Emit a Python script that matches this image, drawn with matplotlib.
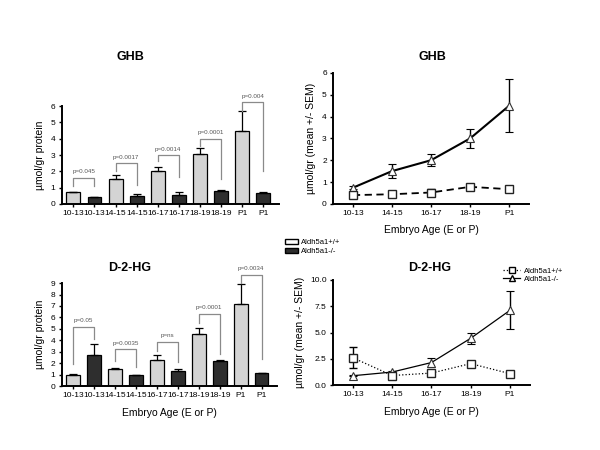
import matplotlib
matplotlib.use("Agg")
import matplotlib.pyplot as plt
from matplotlib.patches import Patch
from matplotlib.lines import Line2D
import numpy as np

plt.rcParams['font.family'] = ['Liberation Sans', 'DejaVu Sans']

ages = ["10-13", "14-15", "16-17", "18-19", "P1"]

# GHB bar data
ghb_wt = [0.70, 1.55, 2.00, 3.05, 4.50]
ghb_wt_err = [0.02, 0.23, 0.28, 0.40, 1.20]
ghb_ko = [0.40, 0.48, 0.55, 0.82, 0.68]
ghb_ko_err = [0.04, 0.12, 0.15, 0.06, 0.02]
ghb_p = ["p=0.045", "p=0.0017", "p=0.0014", "p=0.0001", "p=0.004"]
# bracket: left bottom, top, right bottom
ghb_br_left = [1.10, 2.04, 2.65, 3.55, 5.70]
ghb_br_top = [1.60, 2.50, 3.00, 4.00, 6.24]
ghb_br_right = [1.10, 1.16, 1.67, 1.50, 2.00]

# D-2-HG bar data
hg_wt = [1.00, 1.47, 2.26, 4.55, 7.20]
hg_wt_err = [0.08, 0.13, 0.47, 0.49, 1.72]
hg_ko = [2.70, 1.00, 1.29, 2.23, 1.17]
hg_ko_err = [1.02, 0.01, 0.18, 0.01, 0.01]
hg_p = ["p=0.05", "p=0.0035", "p=ns", "p=0.0001", "p=0.0034"]
hg_br_left = [1.90, 2.17, 3.05, 5.48, 9.00]
hg_br_top = [5.19, 3.23, 3.87, 6.30, 9.74]
hg_br_right = [4.08, 1.67, 2.11, 2.84, 2.40]

# GHB line data
ghb_tri = [0.74, 1.50, 2.00, 3.00, 4.50]
ghb_tri_err = [0.08, 0.33, 0.28, 0.42, 1.20]
ghb_sq = [0.40, 0.44, 0.52, 0.78, 0.67]
ghb_sq_err = [0.05, 0.05, 0.17, 0.05, 0.05]

# D-2-HG line data
hg_tri = [0.90, 1.25, 2.15, 4.45, 7.10]
hg_tri_err = [0.05, 0.10, 0.45, 0.52, 1.80]
hg_sq = [2.60, 0.92, 1.15, 2.05, 1.10]
hg_sq_err = [1.00, 0.05, 0.05, 0.05, 0.05]

LIGHT = '#d4d4d4'
DARK = '#2e2e2e'
BRC = '#8a8a8a'

fig = plt.figure(figsize=(6, 4.5), dpi=100)


def style_axes(ax):
    for s in ['top', 'right']:
        ax.spines[s].set_visible(False)
    for s in ['left', 'bottom']:
        ax.spines[s].set_linewidth(1.4)
    ax.tick_params(axis='both', labelsize=6, length=2.5, width=1, direction='out', pad=2)


def bar_panel(rect, wt, wt_err, ko, ko_err, pl, bl, bt, brr, ymax, xlabel):
    ax = fig.add_axes(rect)
    n = len(ages)
    xw = np.arange(n) * 2
    xk = xw + 1
    ax.bar(xw, wt, width=0.66, color=LIGHT, edgecolor='black', linewidth=0.9,
           yerr=[np.zeros(n), wt_err], error_kw=dict(ecolor='black', elinewidth=0.9, capsize=3, capthick=0.9))
    ax.bar(xk, ko, width=0.66, color=DARK, edgecolor='black', linewidth=0.9,
           yerr=[np.zeros(n), ko_err], error_kw=dict(ecolor='black', elinewidth=0.9, capsize=3, capthick=0.9))
    for i in range(n):
        ax.plot([xw[i], xw[i], xk[i], xk[i]], [bl[i], bt[i], bt[i], brr[i]],
                color=BRC, lw=0.9, clip_on=False)
        ax.text((xw[i] + xk[i]) / 2, bt[i] + ymax * 0.035, pl[i], ha='center', va='bottom',
                fontsize=4.5, color='#555555', clip_on=False)
    ax.set_xlim(-0.55, 9.75)
    ax.set_ylim(0, ymax)
    ax.set_yticks(range(0, ymax + 1))
    ticks = np.empty(2 * n)
    ticks[0::2] = xw
    ticks[1::2] = xk
    ax.set_xticks(ticks)
    labs = []
    for a in ages:
        labs += [a, a]
    ax.set_xticklabels(labs)
    style_axes(ax)
    ax.set_ylabel("µmol/gr protein", fontsize=7.5, labelpad=4)
    if xlabel:
        ax.set_xlabel("Embryo Age (E or P)", fontsize=7.5, labelpad=6)
    return ax


def line_panel(rect, tri, tri_err, sq, sq_err, ymax, yticks, fmt, sq_ls, lw_tri, lw_sq, msq, mtri):
    ax = fig.add_axes(rect)
    x = np.arange(len(ages))
    ax.errorbar(x, tri, yerr=tri_err, color='black', lw=lw_tri, marker='^', ms=mtri,
                mfc='white', mec='#333333', mew=0.8, capsize=3, elinewidth=1.0, capthick=1.0)
    ax.errorbar(x, sq, yerr=sq_err, color='black', lw=lw_sq, ls=sq_ls, marker='s', ms=msq,
                mfc='white', mec='#222222', mew=1.0, capsize=3, elinewidth=1.0, capthick=1.0)
    ax.set_xlim(-0.51, 4.51)
    ax.set_ylim(0, ymax)
    ax.set_yticks(yticks)
    ax.set_yticklabels([fmt.format(v) for v in yticks])
    ax.set_xticks(x)
    ax.set_xticklabels(ages)
    style_axes(ax)
    ax.set_ylabel("µmol/gr (mean +/- SEM)", fontsize=7.5, labelpad=4)
    ax.set_xlabel("Embryo Age (E or P)", fontsize=7.5, labelpad=6)
    return ax


bar_panel([0.103, 0.547, 0.362, 0.217], ghb_wt, ghb_wt_err, ghb_ko, ghb_ko_err,
          ghb_p, ghb_br_left, ghb_br_top, ghb_br_right, 6, False)
bar_panel([0.103, 0.142, 0.359, 0.229], hg_wt, hg_wt_err, hg_ko, hg_ko_err,
          hg_p, hg_br_left, hg_br_top, hg_br_right, 9, True)
line_panel([0.555, 0.547, 0.327, 0.291], ghb_tri, ghb_tri_err, ghb_sq, ghb_sq_err,
           6, list(range(0, 7)), "{:.0f}", (0, (4, 2.5)), 1.5, 1.3, 6, 6)
line_panel([0.555, 0.144, 0.328, 0.234], hg_tri, hg_tri_err, hg_sq, hg_sq_err,
           10, [0, 2.5, 5.0, 7.5, 10.0], "{:.1f}", ':', 0.9, 0.9, 6, 6)

# Titles
fig.text(130 / 600, 1 - 57 / 450, "GHB", ha='center', va='center', fontsize=9, fontweight='bold')
fig.text(432 / 600, 1 - 57 / 450, "GHB", ha='center', va='center', fontsize=9, fontweight='bold')
fig.text(130 / 600, 1 - 268 / 450, "D-2-HG", ha='center', va='center', fontsize=9, fontweight='bold')
fig.text(430 / 600, 1 - 268 / 450, "D-2-HG", ha='center', va='center', fontsize=9, fontweight='bold')

# Bar legend
fig.legend(handles=[Patch(facecolor='white', edgecolor='black', lw=1.0, label='Aldh5a1+/+'),
                    Patch(facecolor=DARK, edgecolor='black', lw=1.0, label='Aldh5a1-/-')],
           loc='upper left', bbox_to_anchor=(280 / 600, 1 - 234 / 450), frameon=False,
           fontsize=5.5, handlelength=1.6, handleheight=0.6, labelspacing=0.2, handletextpad=0.5,
           borderpad=0.2)

# Line legend
fig.legend(handles=[Line2D([], [], color='black', ls=':', lw=0.9, marker='s', ms=5, mfc='white',
                           mec='black', label='Aldh5a1+/+'),
                    Line2D([], [], color='black', ls='-', lw=0.9, marker='^', ms=5, mfc='white',
                           mec='black', label='Aldh5a1-/-')],
           loc='upper left', bbox_to_anchor=(498 / 600, 1 - 262 / 450), frameon=False,
           fontsize=5.5, handlelength=2.2, labelspacing=0.1, handletextpad=0.5, borderpad=0.2)

fig.savefig("out.png", dpi=100)
